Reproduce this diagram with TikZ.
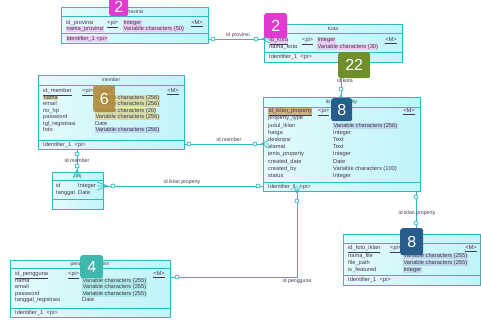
\documentclass[tikz,border=0pt]{standalone}
\usepackage{fontspec}
\setmainfont{Liberation Sans}
\definecolor{bd}{RGB}{48,186,190}
\definecolor{efl}{RGB}{228,251,252}
\definecolor{efr}{RGB}{192,244,248}
\definecolor{tx}{RGB}{70,55,80}
\definecolor{hlav}{RGB}{234,204,242}
\definecolor{holv}{RGB}{214,220,168}
\definecolor{hblu}{RGB}{188,214,236}
\definecolor{hbrn}{RGB}{202,180,132}
\definecolor{htea}{RGB}{172,234,230}
\definecolor{bmag}{RGB}{226,58,208}
\definecolor{bolv}{RGB}{112,143,44}
\definecolor{bgld}{RGB}{178,140,60}
\definecolor{bblu}{RGB}{40,92,138}
\definecolor{btea}{RGB}{62,184,172}
\newcommand\fsz{\fontsize{5.7}{6}\selectfont}
\newcommand\ttsz{\fontsize{5}{6}\selectfont}
\begin{document}
\begin{tikzpicture}[x=1pt,y=-1pt,
 ent/.style={draw=bd, left color=efl, right color=efr, line width=0.8pt, inner sep=0, anchor=north west},
 sep/.style={draw=bd, line width=0.6pt},
 t/.style={font=\fsz, text=tx, inner sep=0, anchor=base west},
 tr/.style={t, anchor=base east},
 tt/.style={t, font=\ttsz, anchor=base},
 rel/.style={draw=bd, line width=0.9pt},
 foot/.style={draw=bd, line width=0.7pt},
 dot/.style={circle, draw=bd, fill=white, line width=0.7pt, inner sep=0, minimum size=4pt},
 lbl/.style={font=\fontsize{5.2}{6}\selectfont, text=tx, inner sep=0.5pt},
 badge/.style={rounded corners=2.5pt, text=white, font=\fontsize{16}{16}\selectfont, inner sep=0, anchor=north west}
]
\useasboundingbox (0,0) rectangle (481,320);

% ---------------- Provinsi
\node[ent, minimum width=147pt, minimum height=36pt] (prov) at (61,7) {};
\draw[sep] (61,16) -- (208,16) (61,33) -- (208,33);
\node[tt] at (134.5,13.2) {Provinsi};
\node[t] at (66,24.4) {\underline{id\_provinsi}};
\node[t] at (107,24.4) {\underline{<pi>}};
\node[t, fill=hlav, inner sep=0.4pt] at (123,24.4) {\underline{Integer}};
\node[tr] at (203,24.4) {\underline{<M>}};
\node[t, fill=hlav, inner sep=0.4pt] at (66,30.7) {nama\_provinsi};
\node[t, fill=hlav, inner sep=0.4pt] at (123,30.7) {Variable characters (50)};
\node[t, fill=hlav, inner sep=0.4pt] at (66,40.2) {Identifier\_1 <pi>};

% ---------------- Kota
\node[ent, minimum width=138pt, minimum height=38pt] (kota) at (264,24) {};
\draw[sep] (264,33) -- (402,33) (264,52) -- (402,52);
\node[tt] at (333,30.2) {Kota};
\node[t, fill=hlav, inner sep=0.4pt] at (269,41.7) {\underline{id\_kota}};
\node[t] at (302,41.7) {\underline{<pi>}};
\node[t, fill=hlav, inner sep=0.4pt] at (317,41.7) {\underline{Integer}};
\node[tr] at (397,41.7) {\underline{<M>}};
\node[t] at (269,48.7) {nama\_kota};
\node[t, fill=hlav, inner sep=0.4pt] at (317,48.7) {Variable characters (30)};
\node[t] at (269,58.7) {Identifier\_1 \ <pi>};

% ---------------- member
\node[ent, minimum width=146pt, minimum height=74pt] (member) at (38,75) {};
\draw[sep] (38,85) -- (184,85) (38,140) -- (184,140);
\node[tt] at (111,81.7) {member};
\node[t] at (43,92.7) {\underline{id\_member}};
\node[t] at (82,92.7) {\underline{<pi>}};
\node[t] at (95,92.7) {Integer};
\node[tr] at (179,92.7) {\underline{<M>}};
\node[t, fill=holv, inner sep=0.4pt] at (43,99.2) {nama};
\node[t, fill=holv, inner sep=0.4pt] at (95,99.2) {Variable characters (256)};
\node[t] at (43,105.7) {email};
\node[t, fill=holv, inner sep=0.4pt] at (95,105.7) {Variable characters (256)};
\node[t] at (43,112.2) {no\_hp};
\node[t, fill=holv, inner sep=0.4pt] at (95,112.2) {Variable characters (20)};
\node[t] at (43,118.7) {password};
\node[t, fill=holv, inner sep=0.4pt] at (95,118.7) {Variable characters (256)};
\node[t] at (43,125.2) {tgl\_registrasi};
\node[t] at (95,125.2) {Date};
\node[t] at (43,131.7) {foto};
\node[t, fill=hblu, inner sep=0.4pt] at (95,131.7) {Variable characters (256)};
\node[t] at (43,146.2) {Identifier\_1 \ <pi>};

% ---------------- iklan_property
\node[ent, minimum width=157pt, minimum height=94pt] (iklan) at (263,97) {};
\draw[sep] (263,107) -- (420,107) (263,182) -- (420,182);
\node[tt] at (341.5,103.7) {iklan\_property};
\node[t, fill=hbrn, inner sep=0.4pt] at (268,112.7) {\underline{id\_iklan\_property}};
\node[t] at (318,112.7) {\underline{<pi>}};
\node[t] at (333,112.7) {Integer};
\node[tr] at (415,112.7) {\underline{<M>}};
\node[t] at (268,119.9) {property\_type};
\node[t] at (333,119.9) {Integer};
\node[t] at (268,127.1) {judul\_iklan};
\node[t, fill=hblu, inner sep=0.4pt] at (333,127.1) {Variable characters (256)};
\node[t] at (268,134.3) {harga};
\node[t] at (333,134.3) {Integer};
\node[t] at (268,141.5) {deskripsi};
\node[t] at (333,141.5) {Text};
\node[t] at (268,148.7) {alamat};
\node[t] at (333,148.7) {Text};
\node[t] at (268,155.9) {jenis\_property};
\node[t] at (333,155.9) {Integer};
\node[t] at (268,163.1) {created\_date};
\node[t] at (333,163.1) {Date};
\node[t] at (268,170.3) {created\_by};
\node[t] at (333,170.3) {Variable characters (100)};
\node[t] at (268,177.5) {status};
\node[t] at (333,177.5) {Integer};
\node[t] at (268,188.2) {Identifier\_1 \ <pi>};

% ---------------- fav
\node[ent, minimum width=51pt, minimum height=37pt] (fav) at (52,172) {};
\draw[sep] (52,180) -- (103,180) (52,199) -- (103,199);
\node[tt] at (77.5,177.7) {fav};
\node[t] at (56,187.7) {id};
\node[t] at (78,187.7) {Integer};
\node[t] at (56,194.2) {tanggal};
\node[t] at (78,194.2) {Date};

% ---------------- pengguna_admin
\node[ent, minimum width=160pt, minimum height=57pt] (peng) at (10,260) {};
\draw[sep] (10,268) -- (170,268) (10,308) -- (170,308);
\node[tt] at (90,265.7) {pengguna\_admin};
\node[t] at (15,275.7) {\underline{id\_pengguna}};
\node[t] at (68,275.7) {\underline{<pi>}};
\node[t] at (82,275.7) {Integer};
\node[tr] at (165,275.7) {\underline{<M>}};
\node[t] at (15,282.2) {nama};
\node[t, fill=htea, inner sep=0.4pt] at (82,282.2) {Variable characters (255)};
\node[t] at (15,288.7) {email};
\node[t, fill=htea, inner sep=0.4pt] at (82,288.7) {Variable characters (255)};
\node[t] at (15,295.2) {password};
\node[t, fill=htea, inner sep=0.4pt] at (82,295.2) {Variable characters (255)};
\node[t] at (15,301.7) {tanggal\_registrasi};
\node[t] at (82,301.7) {Date};
\node[t] at (15,314.2) {Identifier\_1 \ <pi>};

% ---------------- foto_iklan
\node[ent, minimum width=137pt, minimum height=51pt] (foto) at (343,234) {};
\draw[sep] (343,243) -- (480,243) (343,275) -- (480,275);
\node[tt] at (411.5,240.2) {foto\_iklan};
\node[t] at (348,249.7) {\underline{id\_foto\_iklan}};
\node[t] at (390,249.7) {\underline{<pi>}};
\node[t] at (403,249.7) {Integer};
\node[tr] at (477,249.7) {\underline{<M>}};
\node[t] at (348,257.2) {nama\_file};
\node[t, fill=hblu, inner sep=0.4pt] at (403,257.2) {Variable characters (255)};
\node[t] at (348,264.7) {file\_path};
\node[t, fill=hblu, inner sep=0.4pt] at (403,264.7) {Variable characters (255)};
\node[t] at (348,271.7) {is\_featured};
\node[t, fill=hblu, inner sep=0.4pt] at (403,271.7) {Integer};
\node[t] at (348,281.7) {Identifier\_1 \ <pi>};

% ---------------- connector anchor points
\coordinate (pvA) at (208,39);  \coordinate (ktA) at (264,39);
\coordinate (ktB) at (341,62);  \coordinate (ikA) at (341,97);
\coordinate (mbA) at (184,144); \coordinate (ikB) at (263,144);
\coordinate (mbB) at (77,149);  \coordinate (fvA) at (77,172);
\coordinate (fvB) at (103,186); \coordinate (ikC) at (263,186);
\coordinate (ikD) at (297,191); \coordinate (pgA) at (170,277);
\coordinate (ikE) at (416,191); \coordinate (ftA) at (416,234);

% provinsi - kota
\draw[rel] (pvA) -- (ktA);
\draw[foot] (262,39) -- (270,35) (262,39) -- (270,39) (262,39) -- (270,43);
\node[dot] (d1) at (213,39) {};
\node[dot] (d2) at (256,39) {};
\node[lbl] (l1) at (238,35) {id provinsi};

% kota - iklan
\draw[rel] (ktB) -- (ikA);
\draw[foot] (341,95) -- (337,103) (341,95) -- (341,103) (341,95) -- (345,103);
\node[dot] (d3) at (341,67) {};
\node[dot] (d4) at (341,89) {};
\node[lbl] (l2) at (345,81) {id kota};

% member - iklan
\draw[rel] (mbA) -- (ikB);
\draw[foot] (261,144) -- (269,140) (261,144) -- (269,144) (261,144) -- (269,148);
\node[dot] (d5) at (189,144) {};
\node[dot] (d6) at (255,144) {};
\node[lbl] (l3) at (229,140) {id member};

% member - fav
\draw[rel] (mbB) -- (fvA);
\draw[foot] (77,170) -- (73,178) (77,170) -- (77,178) (77,170) -- (81,178);
\node[dot] (d7) at (77,154) {};
\node[dot] (d8) at (77,166) {};
\node[lbl] (l4) at (77,160.5) {id member};

% fav - iklan
\draw[rel] (fvB) -- (ikC);
\draw[foot] (108,186) -- (97,182) (108,186) -- (97,186) (108,186) -- (97,190);
\node[dot] (d9) at (113,186) {};
\node[dot] (d10) at (258,186) {};
\node[lbl] (l5) at (182,182.5) {id iklan property};

% iklan - pengguna
\draw[rel] (ikD) -- (297,277) -- (pgA);
\draw[foot] (297,193) -- (293,185) (297,193) -- (297,185) (297,193) -- (301,185);
\node[dot] (d11) at (297,201) {};
\node[dot] (d12) at (177,277) {};
\node[lbl] (l6) at (297,281.5) {id pengguna};

% iklan - foto
\draw[rel] (ikE) -- (ftA);
\draw[foot] (416,232) -- (412,240) (416,232) -- (416,240) (416,232) -- (420,240);
\node[dot] (d13) at (416,197) {};
\node[dot] (d14) at (416,223) {};
\node[lbl] (l7) at (417,213) {id iklan property};

% ---------------- badges
\node[badge, fill=bmag, minimum width=19pt, minimum height=19pt] (b1) at (109,-3) {2};
\node[badge, fill=bmag, minimum width=23pt, minimum height=25pt] (b2) at (264,13) {2};
\node[badge, fill=bolv, minimum width=32pt, minimum height=26pt] (b3) at (338,52) {22};
\node[badge, fill=bgld, fill opacity=0.9, text opacity=1, minimum width=22pt, minimum height=27pt] (b4) at (93,85) {6};
\node[badge, fill=bblu, minimum width=21pt, minimum height=23pt] (b5) at (331,98) {8};
\node[badge, fill=btea, minimum width=23pt, minimum height=23pt] (b6) at (80,255) {4};
\node[badge, fill=bblu, minimum width=23pt, minimum height=27pt] (b7) at (400,228) {8};
\end{tikzpicture}
\end{document}
